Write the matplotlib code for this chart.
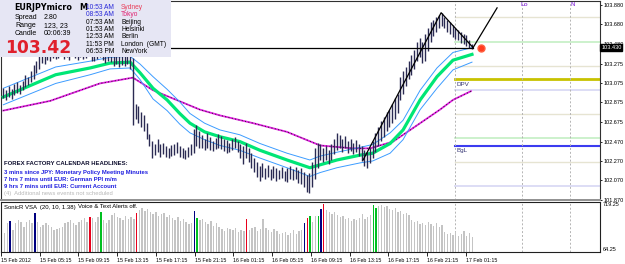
import numpy as np
import matplotlib.pyplot as plt
from matplotlib.patches import Rectangle
from matplotlib.transforms import blended_transform_factory

plt.rcParams['font.family'] = ['Liberation Sans', 'DejaVu Sans']

W, H = 625, 264

# ---------- price bars (one slot per bar) ----------
bar_high = [
    103.02, 103.00, 103.04, 103.01, 103.06, 103.08, 103.05, 103.10, 103.16, 103.14,
    103.20, 103.26, 103.30, 103.36, 103.40, 103.38, 103.43, 103.41, 103.45, 103.42,
    103.44, 103.47, 103.43, 103.46, 103.44, 103.48, 103.45, 103.42, 103.46, 103.44,
    103.45, 103.47, 103.43, 103.41, 103.44, 103.46, 103.42, 103.40, 103.43, 103.41,
    103.36, 103.38, 103.35, 103.37, 103.36, 103.38, 103.35, 103.33, 102.86, 102.84,
    102.78, 102.74, 102.66, 102.55, 102.48, 102.45, 102.50, 102.44, 102.46, 102.42,
    102.40, 102.43, 102.45, 102.47, 102.42, 102.40, 102.38, 102.41, 102.44, 102.60,
    102.64, 102.58, 102.54, 102.50, 102.56, 102.52, 102.48, 102.51, 102.55, 102.53,
    102.50, 102.49, 102.46, 102.50, 102.52, 102.48, 102.45, 102.42, 102.46, 102.40,
    102.35, 102.30, 102.26, 102.22, 102.25, 102.20, 102.23, 102.19, 102.22, 102.20,
    102.18, 102.21, 102.17, 102.20, 102.22, 102.19, 102.21, 102.18, 102.20, 102.16,
    102.12, 102.15, 102.26, 102.40, 102.46, 102.44, 102.40, 102.42, 102.38, 102.44,
    102.50, 102.56, 102.54, 102.50, 102.53, 102.48, 102.50, 102.46, 102.49, 102.45,
    102.42, 102.38, 102.36, 102.40, 102.48, 102.56, 102.62, 102.68, 102.72, 102.78,
    102.80, 102.86, 102.92, 102.96, 103.14, 103.20, 103.24, 103.30, 103.36, 103.42,
    103.50, 103.54, 103.50, 103.58, 103.64, 103.70, 103.72, 103.76, 103.78, 103.80,
    103.76, 103.72, 103.70, 103.67, 103.64, 103.62, 103.60, 103.58, 103.57, 103.52,
    103.48,
]
bar_low = [
    102.92, 102.90, 102.93, 102.91, 102.95, 102.97, 102.96, 103.00, 103.03, 103.05,
    103.08, 103.12, 103.18, 103.22, 103.28, 103.27, 103.31, 103.30, 103.33, 103.32,
    103.33, 103.35, 103.32, 103.34, 103.31, 103.36, 103.33, 103.31, 103.34, 103.32,
    103.33, 103.35, 103.30, 103.30, 103.32, 103.34, 103.31, 103.28, 103.30, 103.29,
    103.25, 103.27, 103.24, 103.26, 103.25, 103.27, 103.22, 102.64, 102.70, 102.66,
    102.62, 102.58, 102.50, 102.42, 102.30, 102.33, 102.36, 102.31, 102.34, 102.31,
    102.30, 102.32, 102.33, 102.35, 102.31, 102.30, 102.29, 102.31, 102.33, 102.35,
    102.42, 102.40, 102.40, 102.38, 102.40, 102.38, 102.37, 102.39, 102.40, 102.39,
    102.37, 102.35, 102.36, 102.38, 102.40, 102.36, 102.30, 102.24, 102.30, 102.26,
    102.20, 102.16, 102.10, 102.06, 102.10, 102.08, 102.10, 102.07, 102.09, 102.06,
    102.08, 102.09, 102.06, 102.05, 102.08, 102.07, 102.08, 102.04, 102.03, 102.00,
    101.95, 101.94, 102.00, 102.08, 102.20, 102.28, 102.26, 102.28, 102.24, 102.28,
    102.34, 102.38, 102.40, 102.36, 102.40, 102.35, 102.37, 102.34, 102.36, 102.32,
    102.27, 102.22, 102.20, 102.25, 102.30, 102.36, 102.42, 102.48, 102.52, 102.58,
    102.62, 102.66, 102.70, 102.76, 102.90, 102.96, 103.04, 103.12, 103.16, 103.22,
    103.30, 103.34, 103.28, 103.30, 103.40, 103.50, 103.56, 103.60, 103.64, 103.66,
    103.64, 103.60, 103.58, 103.55, 103.53, 103.52, 103.49, 103.48, 103.46, 103.44,
    103.43,
]

# ---------- SonicR VSA volume ----------
volume = [
    313, 444, 470, 352, 444, 483, 457, 392, 457, 483,
    444, 575, 457, 392, 418, 444, 418, 392, 352, 365,
    378, 392, 444, 457, 483, 444, 418, 457, 483, 509,
    457, 522, 509, 457, 522, 588, 483, 444, 483, 549,
    575, 522, 509, 483, 536, 496, 522, 496, 575, 614,
    640, 601, 627, 588, 562, 588, 536, 562, 575, 522,
    549, 509, 483, 522, 470, 496, 457, 431, 444, 601,
    509, 483, 496, 457, 431, 470, 405, 444, 392, 365,
    339, 378, 365, 352, 378, 326, 352, 339, 496, 352,
    378, 392, 339, 365, 496, 378, 352, 326, 365, 339,
    300, 313, 326, 287, 313, 352, 300, 339, 352, 444,
    509, 536, 457, 536, 536, 627, 693, 614, 588, 562,
    588, 549, 522, 536, 496, 509, 470, 496, 483, 509,
    562, 496, 522, 549, 680, 640, 667, 680, 654, 667,
    627, 614, 640, 588, 601, 562, 575, 549, 483, 457,
    470, 431, 444, 418, 457, 431, 405, 444, 392, 418,
    326, 300, 313, 287, 326, 274, 300, 339, 274, 313,
    260,
]
navy_bars = [2, 11, 69, 109, 115]
red_bars = [31, 48, 88, 110, 116]
green_bars = [35, 70, 111, 114, 134, 135]

# ---------- SonicR dragon (EMA34 of high / close / low) ----------
ema_idx = [0, 19, 31.5, 38.7, 46, 49.6, 54.3, 59.4, 64, 67.7, 73, 78.6, 85.8,
           93.1, 102.9, 111.2, 114.9, 121, 129.4, 134, 140.3, 145, 151.2,
           157.3, 163.1, 170]
ema_mid = [102.93, 103.16, 103.23, 103.28, 103.29, 103.18, 103.02, 102.90, 102.76,
           102.66, 102.57, 102.52, 102.47, 102.38, 102.28, 102.20, 102.23, 102.28,
           102.33, 102.35, 102.45, 102.59, 102.90, 103.14, 103.31, 103.37]
ema_up = [103.02, 103.24, 103.30, 103.34, 103.35, 103.27, 103.14, 103.01, 102.88,
          102.76, 102.66, 102.59, 102.54, 102.45, 102.35, 102.28, 102.32, 102.36,
          102.41, 102.44, 102.56, 102.69, 103.00, 103.23, 103.39, 103.44]
ema_dn = [102.85, 103.07, 103.16, 103.22, 103.23, 103.11, 102.91, 102.79, 102.65,
          102.56, 102.49, 102.43, 102.38, 102.30, 102.20, 102.11, 102.15, 102.20,
          102.25, 102.27, 102.35, 102.49, 102.80, 103.02, 103.21, 103.29]

# ---------- EMA89 ----------
ema89_idx = [0, 17, 26, 35, 47, 54.3, 71.3, 78.6, 90.6, 102.9, 114.9, 126.8,
             133, 141.4, 151.2, 158.4, 163.1, 169.6]
ema89 = [102.79, 102.89, 102.98, 103.07, 103.13, 103.00, 102.80, 102.74, 102.66,
         102.57, 102.43, 102.40, 102.40, 102.47, 102.66, 102.80, 102.90, 102.99]

# ---------- zigzag / lines ----------
zigzag_idx = [130.5, 158.8, 170.4]
zigzag_price = [102.28, 103.80, 103.44]
proj_idx = [170.4, 179.1]
proj_price = [103.44, 103.85]
last_price = 103.44
dot_idx, dot_price = 173.3, 103.44

# ---------- pivot levels ----------
sep_idx = [163.8, 188.1, 205.5]
level_price = [103.756, 103.498, 103.250, 103.116, 103.002, 102.755,
               102.507, 102.424, 102.259, 102.011]
level_color = ['#e6e4d2', '#c8f0c8', '#e6e4d2', '#c8c200', '#dadaf4', '#e6e4d2',
               '#c8f0c8', '#3c3cf0', '#e6e4d2', '#dadaf4']
level_width = [1.0, 1.3, 1.0, 2.0, 1.3, 1.0, 1.3, 1.5, 1.0, 1.3]

price_ticks = [103.880, 103.680, 103.480, 103.275, 103.075, 102.875,
               102.675, 102.470, 102.270, 102.070, 101.870]
time_labels = ['15 Feb 2012', '15 Feb 05:15', '15 Feb 09:15', '15 Feb 13:15',
               '15 Feb 17:15', '15 Feb 21:15', '16 Feb 01:15', '16 Feb 05:15',
               '16 Feb 09:15', '16 Feb 13:15', '16 Feb 17:15', '16 Feb 21:15',
               '17 Feb 01:15']
time_tick_pos = [-1.3 + 14.08 * k for k in range(len(time_labels))]

clock_times = ['10:53 AM', '08:53 AM', '07:53 AM', '01:53 AM', '12:53 AM',
               '11:53 PM', '06:53 PM']
clock_cities = ['Sydney', 'Tokyo', 'Beijing', 'Helsinki', 'Berlin',
                'London  (GMT)', 'NewYork']
headlines = ['3 mins since JPY: Monetary Policy Meeting Minutes',
             '7 hrs 7 mins until EUR: German PPI m/m',
             '9 hrs 7 mins until EUR: Current Account']

n = len(bar_high)
idx = np.arange(n)
x_lo, x_hi = -0.834, 216.43


def fx(x):
    return x / W


def fy(y):
    return 1 - y / H


fig = plt.figure(figsize=(W / 100, H / 100), dpi=100)
ax = fig.add_axes([fx(1), fy(200), 599 / W, 199 / H])
axv = fig.add_axes([fx(1), fy(252), 599 / W, 50 / H])

# ---------- main panel ----------
ax.set_xlim(x_lo, x_hi)
ax.set_ylim(101.867, 103.921)

for p, c, lw in zip(level_price, level_color, level_width):
    ax.plot([sep_idx[0], x_hi], [p, p], color=c, lw=lw, zorder=1)
for s in sep_idx:
    ax.axvline(s, color='#b4b4b4', lw=0.7, ls=(0, (2, 2)), zorder=1)
    axv.axvline(s, color='#b4b4b4', lw=0.7, ls=(0, (2, 2)), zorder=1)

ax.plot(ema89_idx, ema89, color='#e020e0', lw=1.3, zorder=2)
ax.plot(ema89_idx, ema89, color='#202020', lw=0.7, ls=(0, (1, 2.5)), zorder=2)
ax.plot(ema_idx, ema_up, color='#3c9cff', lw=0.7, zorder=3)
ax.plot(ema_idx, ema_dn, color='#3c9cff', lw=0.7, zorder=3)
ax.plot(ema_idx, ema_mid, color='#00e676', lw=2.3, zorder=3)

ax.vlines(idx, bar_low, bar_high, color='#2a2a52', lw=1.0, zorder=4)

ax.plot([x_lo, zigzag_idx[-1]], [last_price, last_price], color='black', lw=0.9, zorder=5)
ax.plot(zigzag_idx, zigzag_price, color='black', lw=0.9, zorder=5)
ax.plot(proj_idx, proj_price, color='black', lw=0.9, zorder=5)
ax.plot([dot_idx], [dot_price], 'o', color='#ff3c1e', ms=5, mec='#ff6040', zorder=6)

ax.text(sep_idx[0] + 0.6, 103.116 - 0.03, 'DPV', fontsize=4.5, color='#303070',
        va='top', ha='left')
ax.text(sep_idx[0] + 0.6, 102.424 - 0.02, 'BgL', fontsize=4.5, color='#303070',
        va='top', ha='left')
ax.text(sep_idx[1] - 0.6, 103.88, 'Lo', fontsize=4.5, color='#9a50e0',
        va='center', ha='left', fontweight='bold')
ax.text(sep_idx[2] + 0.2, 103.88, 'N', fontsize=4.5, color='#9a50e0',
        va='center', ha='left', fontweight='bold')

ax.yaxis.tick_right()
ax.set_yticks(price_ticks)
ax.set_yticklabels([f'{p:.3f}' for p in price_ticks], fontsize=4)
ax.tick_params(axis='y', length=1.5, width=0.6, pad=1)
ax.set_xticks([])
for s in ['left', 'top', 'right']:
    ax.spines[s].set_color('#303030')
    ax.spines[s].set_linewidth(0.8)
ax.spines['bottom'].set_color('#909090')
ax.spines['bottom'].set_linewidth(1.4)

# current price box
ax.text(1.002, last_price, '103.430', transform=blended_transform_factory(ax.transAxes, ax.transData),
        fontsize=4, color='white', va='center', ha='left',
        bbox=dict(boxstyle='square,pad=0.15', fc='black', ec='black'))

# ---------- volume panel ----------
axv.set_xlim(x_lo, x_hi)
axv.set_ylim(64.25, 719.25)
cols = ['#c4c4c4'] * n
for i in navy_bars:
    cols[i] = '#000080'
for i in red_bars:
    cols[i] = '#e8001c'
for i in green_bars:
    cols[i] = '#00c020'
axv.bar(idx, volume, width=0.5, color=cols, zorder=2)
axv.set_yticks([])
axv.set_xticks(time_tick_pos)
axv.set_xticklabels(time_labels, fontsize=3.8)
for lab in axv.get_xticklabels():
    lab.set_horizontalalignment('left')
axv.tick_params(axis='x', length=3, width=0.6, pad=1)
for s in axv.spines.values():
    s.set_color('#202020')
    s.set_linewidth(0.8)
axv.text(1.004, 1.0, '719.25', transform=axv.transAxes, fontsize=4, va='top', ha='left')
axv.text(1.004, 0.0, '64.25', transform=axv.transAxes, fontsize=4, va='bottom', ha='left')
fig.text(fx(4), fy(207), 'SonicR VSA  (20, 10, 1.38)', fontsize=4.3, va='center')
fig.text(fx(78), fy(207), 'Voice & Text Alerts off.', fontsize=4.3, va='center')

# ---------- info box ----------
fig.add_artist(Rectangle((0, fy(57)), fx(171), 57 / H, transform=fig.transFigure,
                         facecolor='#e6e6f4', edgecolor='none', zorder=5))
fig.text(fx(14), fy(7.5), 'EURJPYmicro', fontsize=5.8, fontweight='bold',
         family='DejaVu Sans', va='center', zorder=6)
fig.text(fx(79), fy(7.5), 'M', fontsize=5.8, fontweight='bold',
         family='DejaVu Sans', va='center', zorder=6)
for j, (lab, val) in enumerate([('Spread', '2.80'), ('Range', '123, 23'),
                                ('Candle', '00:06:39')]):
    yy = 17.3 + 8.3 * j
    fig.text(fx(15), fy(yy), lab, fontsize=5, va='center', zorder=6)
    fig.text(fx(44), fy(yy), val, fontsize=5, va='center', zorder=6)
fig.text(fx(5), fy(47.7), '103.42', fontsize=12.3, fontweight='bold',
         family='DejaVu Sans', color='#e0202c', va='center', zorder=6)
time_cols = ['#2828d8', '#2828d8'] + ['black'] * 5
city_cols = ['#e8405a', '#e0206e'] + ['black'] * 5
for j, (t, c) in enumerate(zip(clock_times, clock_cities)):
    yy = 7.3 + 7.4 * j
    fig.text(fx(86), fy(yy), t, fontsize=4.8, color=time_cols[j], va='center', zorder=6)
    fig.text(fx(121), fy(yy), c, fontsize=4.8, color=city_cols[j], va='center', zorder=6)

# ---------- news headlines ----------
fig.text(fx(4), fy(163.3), 'FOREX FACTORY CALENDAR HEADLINES:', fontsize=4.3,
         fontweight='bold', color='#101030', va='center', zorder=6)
for j, h in enumerate(headlines):
    fig.text(fx(4), fy(172.3 + 7.3 * j), h, fontsize=4.2, fontweight='bold',
             color='#2020e0', va='center', zorder=6)
fig.text(fx(4), fy(194), '(4)  Additional news events not scheduled', fontsize=4.2,
         color='#b8b8b8', va='center', zorder=6)

fig.savefig('out.png', dpi=100, facecolor='white')
